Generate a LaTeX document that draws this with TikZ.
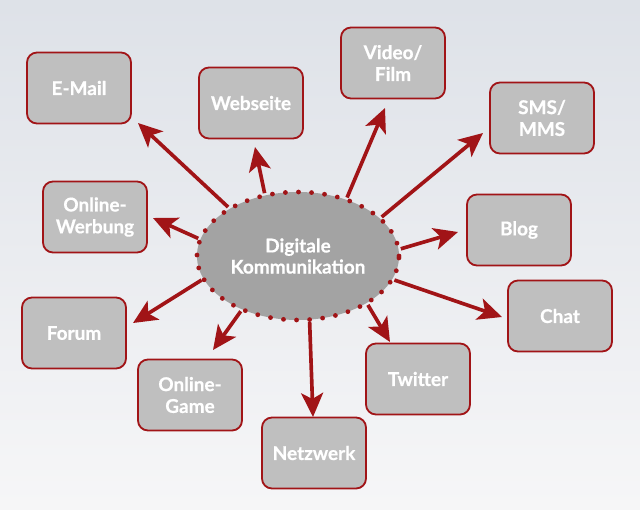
\documentclass[tikz,border=0pt]{standalone}
\usepackage{fontspec}
\setmainfont{Lato}[BoldFeatures={FakeBold=0.6}]
\usetikzlibrary{arrows.meta,shapes.geometric}
\definecolor{myred}{rgb}{0.63,0.08,0.09}
\definecolor{mygray}{rgb}{0.75,0.75,0.75}
\definecolor{mydark}{rgb}{0.64,0.64,0.64}
\definecolor{bgtop}{rgb}{0.87,0.885,0.91}
\definecolor{bgbot}{rgb}{0.965,0.965,0.97}

\begin{document}
\begin{tikzpicture}[x=0.025cm,y=-0.025cm,
    box/.style={draw=myred,line width=1.3pt,fill=mygray,rounded corners=0.25cm,
      minimum width=2.6cm,minimum height=1.775cm,text=white,align=center,
      font=\bfseries\fontsize{13.5}{15.5}\selectfont},
    pfeil/.style={myred,line width=2.6pt,-{Stealth[length=6mm,width=5.5mm,inset=1.5mm]}}]

    \useasboundingbox (0,0) rectangle (640,509);
    \fill[top color=bgtop,bottom color=bgbot] (0,0) rectangle (640,509);

    % the centre
    \node[ellipse,draw=myred,fill=mydark,line width=3.4pt,dash pattern=on 0pt off 9.3pt,line cap=round,
      minimum width=5.05cm,minimum height=3.2cm,inner sep=0pt,text=white,align=center,
      font=\bfseries\fontsize{13.5}{15}\selectfont] (dk) at (298,256) {Digitale\\Kommunikation};

    \foreach \x/\y/\name/\txt in {79/88/email/E-Mail, 251/103/webseite/Webseite, 393/63/video/{Video/\\Film},
      542/118/sms/{SMS/\\MMS}, 95/217/werbung/{Online-\\Werbung}, 519/230/blog/Blog,
      74/333/forum/Forum, 560/316/chat/Chat, 190/395/game/{Online-\\Game},
      418/379/twitter/Twitter, 314/453/netzwerk/Netzwerk}{% one box per channel
      \node[box] (\name) at (\x,\y) {\txt};
    }

    % arrow tips stop short of the boxes
    \foreach \a/\x/\y/\name in {145/138/123/email, 118/255/147/webseite, 50/385/108/video,
      25/483/133/sms, 170/153/218/werbung, 4/458/232/blog, 194/133/323/forum,
      346/502/317/chat, 224/213/350/game, 325/390/342/twitter, 280/313/417/netzwerk}{%
      \coordinate (t\name) at (\x,\y);
      \draw[pfeil] (dk.\a) -- (t\name);
    }

\end{tikzpicture}
\end{document}
